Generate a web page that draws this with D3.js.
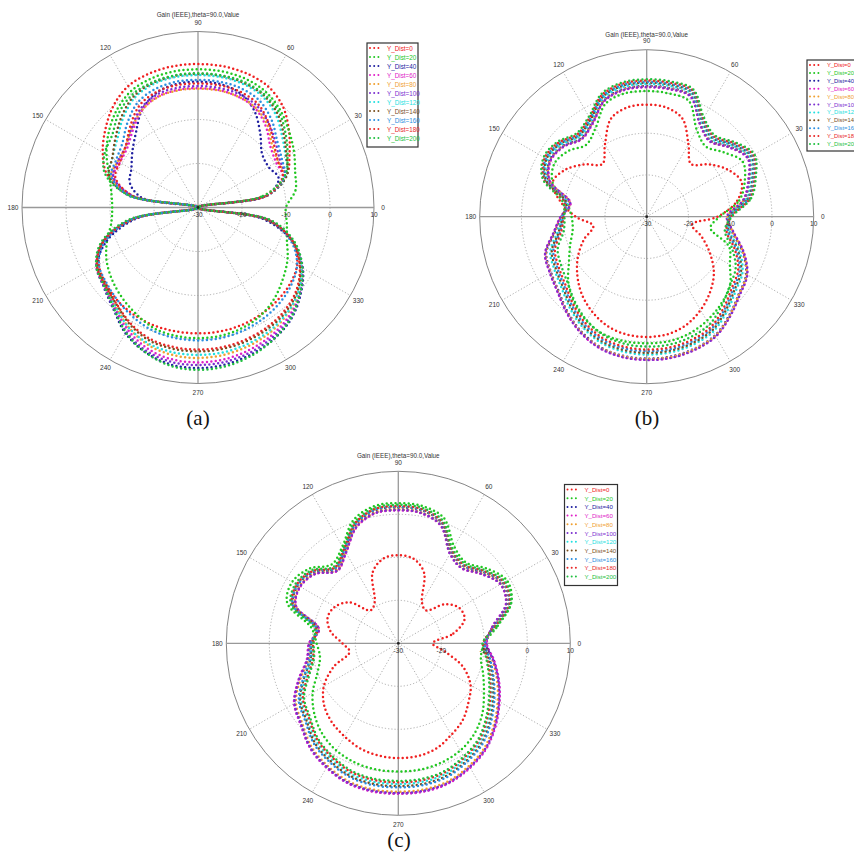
<!DOCTYPE html>
<html>
<head>
<meta charset="utf-8">
<script src="https://cdn.jsdelivr.net/npm/d3@7"></script>
<style>
  body { margin: 0; background: #fff; }
  svg text { font-family: "Liberation Sans", Arial, sans-serif; }
</style>
</head>
<body>
<svg id="chart" width="854" height="854"></svg>
<script>
// angles (deg) at which the gain was read, same for every curve
const angles = [0, 10, 20, 30, 40, 50, 60, 70, 80, 90, 100, 110, 120, 130, 140, 150, 160, 170,
    180, 190, 200, 210, 220, 230, 240, 250, 260, 270, 280, 290, 300, 310, 320, 330, 340, 350];

const seriesNames = ["Y_Dist=0", "Y_Dist=20", "Y_Dist=40", "Y_Dist=60", "Y_Dist=80", "Y_Dist=100",
    "Y_Dist=120", "Y_Dist=140", "Y_Dist=160", "Y_Dist=180", "Y_Dist=200"];
const seriesColors = ["#f02020", "#22c722", "#2020a0", "#e020c8", "#f0a030", "#7b2fd0",
    "#22e0e0", "#7a4f1e", "#2a8ee0", "#e82828", "#20c040"];

const angleTicks = [0, 30, 60, 90, 120, 150, 180, 210, 240, 270, 300, 330];
const radialTicks = [-30, -20, -10, 0, 10];
const titleText = "Gain (IEEE),theta=90.0,Value";

// gain in dB, panel (a), one row per Y_Dist
const gainA = [
    [-30, -14, -8.5, -6, -3, 0, 1.8, 2.4, 2.6, 2.6, 2.6, 2.4, 1.8, 0, -2.5, -5, -8, -14, -30, -15, -7, -4, -2.8, -2, -1.6, -1.4, -1.4, -1.4, -1.4, -1.5, -1.8, -2.2, -2.8, -4, -7, -14],
    [-10, -7.5, -6.5, -4.8, -3, -1, 0.5, 1.2, 1.4, 1.4, 1.4, 1.2, 0.5, -1.2, -3.5, -6, -8.5, -10, -10.5, -10, -8, -6, -4.5, -3.2, -2, -0.8, -0.4, -0.3, -0.4, -0.8, -1.6, -3, -4.8, -6.5, -8.5, -9.5],
    [-30, -14, -10.5, -11.5, -11, -8, -4.5, -2.3, -1.5, -1.4, -1.5, -2.3, -4.5, -8, -10.5, -12.5, -13.5, -17, -30, -16, -8, -3.5, -2, 0, 3, 5, 6.2, 6.5, 6.2, 5.5, 4.5, 3, 0.5, -2.5, -7, -15],
    [-30, -14, -9.5, -9.5, -8.5, -6, -4, -3.2, -2.9, -2.9, -2.9, -3.2, -4.5, -7, -9, -9.5, -9.5, -15, -30, -15, -7, -3.4, -2.2, -0.5, 2, 4, 5, 5.2, 5, 4.4, 3.5, 2.2, 0.2, -2.8, -7, -14],
    [-30, -15, -9, -9, -8, -5.5, -3.8, -3.2, -3, -3, -3, -3.3, -4.5, -6.5, -8.5, -9, -9, -15, -30, -15, -7, -3.5, -2.4, -0.8, 1.5, 3.2, 4, 4.2, 4, 3.5, 2.8, 1.6, 0, -2.9, -7, -14],
    [-30, -14, -9, -8.5, -7, -5, -3.3, -2.6, -2.4, -2.4, -2.4, -2.7, -4, -6.5, -8.5, -9, -9.5, -15, -30, -15, -7, -3.3, -2.1, -0.2, 2.6, 4.6, 5.6, 5.8, 5.6, 5, 4, 2.6, 0.3, -2.7, -7, -14],
    [-30, -14, -8.5, -7, -5, -2.5, -0.8, -0.1, 0.1, 0.1, 0.1, -0.2, -1.2, -3.5, -6, -7.5, -8.5, -14, -30, -15, -7, -3.5, -2.4, -0.8, 1.5, 2.9, 3.4, 3.5, 3.4, 3, 2.4, 1.4, -0.2, -3, -7, -14],
    [-30, -14, -8.5, -6.8, -4.5, -2, -0.4, 0.2, 0.4, 0.4, 0.4, 0.1, -0.8, -3, -5.5, -7.5, -8.5, -14, -30, -15, -7, -3.6, -2.6, -1.2, 0.8, 2.2, 2.6, 2.7, 2.6, 2.3, 1.8, 1, -0.5, -3.2, -7, -14],
    [-30, -14, -9, -8, -6.5, -4, -2, -1.2, -1, -1, -1, -1.4, -2.5, -5, -7.5, -8.5, -9, -14, -30, -15, -7.5, -4, -3, -2, -1, -0.2, 0.1, 0.2, 0.1, -0.2, -0.7, -1.4, -2.4, -4, -7.5, -14],
    [-30, -14, -9.5, -9, -7.5, -5, -2.8, -2, -1.8, -1.8, -1.8, -2.1, -3.3, -6, -8.5, -9.5, -10, -15, -30, -15, -7, -3.5, -2.5, -1.3, 0.5, 1.8, 2.2, 2.3, 2.2, 1.9, 1.4, 0.6, -0.8, -3.3, -7, -14],
    [-30, -15, -9, -6.5, -4, -1.5, -0.2, 0.4, 0.5, 0.5, 0.5, 0.3, -0.3, -2, -4.5, -5.5, -7.5, -14, -30, -14, -6.5, -3.3, -2.2, -0.2, 2.8, 5, 6.5, 6.9, 6.6, 5.8, 4.5, 2.8, 0.3, -2.6, -6.5, -13],
];

// gain in dB, panel (b)
const gainB = [
    [-13, -8, -5.8, -7.5, -10.5, -13.5, -10, -5, -3.4, -3.2, -3.4, -5, -10, -13.5, -10.5, -7.5, -6, -9, -13, -17, -14, -11, -8.3, -5.8, -3.8, -2.2, -1.4, -1.2, -1.4, -2.4, -4.2, -6.4, -9, -12.5, -16, -19],
    [-12.5, -7.5, -5, -3.5, -6, -8, -6, -0.5, 0, 0.1, 0, -1.2, -5.5, -7.5, -5.5, -4.5, -6, -10.5, -12, -12, -10.5, -8.5, -5.5, -3, -1.2, 0, 0.3, 0.3, 0.3, -0.2, -1.2, -2.5, -4, -7, -9, -14.5],
    [-10.5, -6.2, -3.8, -1.8, -3.9, -6.2, -4.2, 0.9, 1.3, 1.3, 1.1, -0.2, -3.9, -5.5, -3.7, -3.1, -5.1, -11.2, -9.6, -7.6, -4.4, -3.5, -2.4, -0.4, 1.6, 3.1, 3.8, 4.0, 4.0, 3.6, 2.8, 0.8, -1.2, -2.5, -5.6, -9.2],
    [-10.8, -6.5, -4.1, -2.1, -4.2, -6.5, -4.5, 0.6, 1.0, 1.0, 0.8, -0.5, -4.2, -5.8, -4.0, -3.4, -5.4, -11.5, -9.4, -7.3, -4.1, -3.2, -2.1, -0.1, 1.9, 3.4, 4.1, 4.3, 4.3, 3.9, 3.1, 1.1, -0.9, -2.2, -5.3, -8.9],
    [-10.6, -6.3, -3.9, -1.9, -4.0, -6.3, -4.3, 0.8, 1.2, 1.2, 1.0, -0.3, -4.0, -5.6, -3.8, -3.2, -5.2, -11.3, -9.5, -7.5, -4.3, -3.4, -2.3, -0.3, 1.7, 3.2, 3.9, 4.1, 4.1, 3.7, 2.9, 0.9, -1.1, -2.4, -5.5, -9.1],
    [-10.7, -6.4, -4.0, -2.0, -4.1, -6.4, -4.4, 0.7, 1.1, 1.1, 0.9, -0.4, -4.1, -5.7, -3.9, -3.3, -5.3, -11.4, -9.4, -7.3, -4.1, -3.2, -2.1, -0.1, 1.9, 3.4, 4.1, 4.3, 4.3, 3.9, 3.1, 1.1, -0.9, -2.2, -5.3, -8.9],
    [-10.3, -5.7, -3.3, -1.3, -3.4, -5.7, -3.7, 1.4, 1.8, 1.8, 1.6, 0.3, -3.4, -5.0, -3.2, -2.6, -4.6, -10.7, -9.8, -8.3, -5.4, -4.5, -3.4, -1.4, 0.6, 2.1, 2.8, 3.0, 3.0, 2.6, 1.8, -0.2, -2.2, -3.5, -6.4, -9.8],
    [-10.2, -5.4, -3.0, -1.0, -3.1, -5.4, -3.4, 1.7, 2.1, 2.1, 1.9, 0.6, -3.1, -4.7, -2.9, -2.3, -4.3, -10.4, -9.9, -8.6, -5.8, -4.9, -3.8, -1.8, 0.2, 1.7, 2.4, 2.6, 2.6, 2.2, 1.4, -0.6, -2.6, -3.9, -6.8, -10.1],
    [-10.0, -5.2, -2.8, -0.8, -2.9, -5.2, -3.2, 1.9, 2.3, 2.3, 2.1, 0.8, -2.9, -4.5, -2.7, -2.1, -4.1, -10.2, -10.0, -8.9, -6.2, -5.3, -4.2, -2.2, -0.2, 1.3, 2.0, 2.2, 2.2, 1.8, 1.0, -1.0, -3.0, -4.3, -7.2, -10.3],
    [-9.8, -4.9, -2.5, -0.5, -2.6, -4.9, -2.9, 2.2, 2.6, 2.6, 2.4, 1.1, -2.6, -4.2, -2.4, -1.8, -3.8, -9.9, -10.1, -9.2, -6.6, -5.7, -4.6, -2.6, -0.6, 0.9, 1.6, 1.8, 1.8, 1.4, 0.6, -1.4, -3.4, -4.7, -7.6, -10.6],
    [-9.6, -4.6, -2.2, -0.2, -2.3, -4.6, -2.6, 2.5, 2.9, 2.9, 2.7, 1.4, -2.3, -3.9, -2.1, -1.5, -3.5, -9.6, -10.3, -9.8, -7.3, -6.4, -5.3, -3.3, -1.3, 0.2, 0.9, 1.1, 1.1, 0.7, -0.1, -2.1, -4.1, -5.4, -8.3, -11.0],
];

// gain in dB, panel (c)
const gainC = [
    [-22, -17, -13.6, -13.6, -15.9, -20, -19, -12.5, -10, -9.5, -10, -12.5, -19, -20, -15.2, -13, -12.5, -14, -17, -18.5, -14, -10, -7.5, -6, -5, -4, -3.5, -3.3, -3.4, -4, -5.4, -6.7, -8.7, -10.6, -14, -19],
    [-10, -6.5, -2, -0.8, -3, -5.5, -4, 1, 2.4, 2.6, 2.4, 0.5, -4, -6, -3, -1.5, -2.5, -9.5, -11, -11.5, -10, -7, -4.5, -2.5, -1.2, -0.5, -0.2, -0.2, -0.2, -0.5, -1.2, -2.5, -4.5, -7, -9, -10.5],
    [-9.5, -7.7, -3.3, -2.5, -4.8, -7.1, -5.9, -0.9, 0.8, 1.0, 0.8, -1.3, -5.6, -7.9, -4.8, -3.6, -4.6, -11.2, -9.3, -8.5, -5.4, -2.1, -0.5, 1.8, 3.3, 4.5, 4.9, 4.9, 4.9, 4.5, 3.3, 1.8, -0.5, -2.9, -5.2, -7.5],
    [-9.4, -7.8, -3.4, -2.6, -4.9, -7.2, -6.0, -1.0, 0.7, 0.9, 0.7, -1.4, -5.7, -8.0, -4.9, -3.7, -4.7, -11.3, -9.2, -8.4, -5.3, -2.0, -0.4, 1.9, 3.4, 4.6, 5.0, 5.0, 5.0, 4.6, 3.4, 1.9, -0.4, -2.8, -5.1, -7.4],
    [-9.7, -7.6, -3.2, -2.4, -4.7, -7.0, -5.8, -0.8, 0.9, 1.1, 0.9, -1.2, -5.5, -7.8, -4.7, -3.5, -4.5, -11.1, -9.5, -8.8, -5.8, -2.5, -0.9, 1.4, 2.9, 4.1, 4.5, 4.5, 4.5, 4.1, 2.9, 1.4, -0.9, -3.3, -5.6, -7.8],
    [-9.6, -7.7, -3.3, -2.5, -4.8, -7.1, -5.9, -0.9, 0.8, 1.0, 0.8, -1.3, -5.6, -7.9, -4.8, -3.6, -4.6, -11.2, -9.4, -8.6, -5.5, -2.2, -0.6, 1.7, 3.2, 4.4, 4.8, 4.8, 4.8, 4.4, 3.2, 1.7, -0.6, -3.0, -5.3, -7.6],
    [-10.2, -7.1, -2.5, -1.7, -4.0, -6.3, -5.1, -0.1, 1.6, 1.8, 1.6, -0.5, -4.8, -7.1, -4.0, -2.8, -3.8, -10.6, -10.0, -9.6, -7.2, -4.0, -2.5, -0.3, 1.1, 2.3, 2.7, 2.7, 2.7, 2.3, 1.1, -0.3, -2.6, -4.9, -7.0, -8.8],
    [-10.0, -7.3, -2.7, -1.9, -4.2, -6.5, -5.3, -0.3, 1.4, 1.6, 1.4, -0.7, -5.0, -7.3, -4.2, -3.0, -4.0, -10.8, -9.8, -9.3, -6.7, -3.6, -2.1, 0.2, 1.6, 2.8, 3.2, 3.2, 3.2, 2.8, 1.6, 0.2, -2.1, -4.5, -6.6, -8.5],
    [-9.9, -7.2, -2.6, -1.8, -4.1, -6.4, -5.2, -0.2, 1.5, 1.7, 1.5, -0.6, -4.9, -7.2, -4.1, -2.9, -3.9, -10.7, -9.7, -9.1, -6.5, -3.3, -1.8, 0.5, 1.9, 3.1, 3.5, 3.5, 3.5, 3.1, 1.9, 0.5, -1.8, -4.2, -6.4, -8.3],
    [-10.3, -7.0, -2.4, -1.6, -3.9, -6.2, -5.0, 0.0, 1.7, 1.9, 1.7, -0.4, -4.7, -7.0, -3.9, -2.7, -3.7, -10.5, -10.2, -9.9, -7.6, -4.4, -2.9, -0.7, 0.7, 1.9, 2.3, 2.3, 2.3, 1.9, 0.7, -0.7, -3.0, -5.3, -7.3, -9.0],
    [-10.4, -6.7, -2.1, -1.3, -3.6, -5.9, -4.7, 0.3, 2.0, 2.2, 2.0, -0.1, -4.4, -6.7, -3.6, -2.4, -3.4, -10.2, -10.3, -10.1, -7.9, -4.7, -3.2, -1.0, 0.4, 1.6, 2.0, 2.0, 2.0, 1.6, 0.4, -1.0, -3.3, -5.6, -7.6, -9.2],
];

// layout of the three plots
const panels = [
    { data: gainA, cx: 198, cy: 207.5, R: 176, titleY: 17, caption: "(a)", capX: 198, capY: 425,
      legend: { x: 367, y: 43, w: 51, h: 104, row: 9, fs: 6.3 } },
    { data: gainB, cx: 646.7, cy: 216.7, R: 167, titleY: 36.5, caption: "(b)", capX: 647, capY: 425,
      legend: { x: 807, y: 60, w: 60, h: 91, row: 7.9, fs: 5.8 } },
    { data: gainC, cx: 398.3, cy: 643.3, R: 172, titleY: 458, caption: "(c)", capX: 399, capY: 847,
      legend: { x: 564.5, y: 484.5, w: 53, h: 101, row: 8.7, fs: 6.1 } },
];

const svg = d3.select("#chart");
svg.append("rect").attr("width", 854).attr("height", 854).attr("fill", "#fff");

const toRad = (deg) => (deg * Math.PI) / 180;

const drawPanel = (p) => {
    const r = d3.scaleLinear().domain([-30, 10]).range([0, p.R]).clamp(true);
    const g = svg.append("g").attr("transform", `translate(${p.cx},${p.cy})`);

    // grid rings
    g.selectAll(".ring")
        .data([-20, -10, 0])
        .join("circle")
        .attr("r", (d) => r(d))
        .attr("fill", "none")
        .attr("stroke", "#999")
        .attr("stroke-width", 0.8)
        .attr("stroke-dasharray", "1.2,2");
    g.append("circle")
        .attr("r", r(10))
        .attr("fill", "none")
        .attr("stroke", "#777")
        .attr("stroke-width", 0.9);

    // spokes
    g.selectAll(".spoke")
        .data(angleTicks.filter((a) => a % 90 !== 0))
        .join("line")
        .attr("x2", (a) => r(10) * Math.cos(toRad(a)))
        .attr("y2", (a) => -r(10) * Math.sin(toRad(a)))
        .attr("stroke", "#999")
        .attr("stroke-width", 0.8)
        .attr("stroke-dasharray", "1.2,2");
    g.append("line")
        .attr("x1", -p.R).attr("x2", p.R)
        .attr("stroke", "#999").attr("stroke-width", 1.3);
    g.append("line")
        .attr("y1", -p.R).attr("y2", p.R)
        .attr("stroke", "#999").attr("stroke-width", 1.3);

    // angle labels
    g.selectAll(".alab")
        .data(angleTicks)
        .join("text")
        .attr("x", (a) => (p.R + 9) * Math.cos(toRad(a)))
        .attr("y", (a) => -(p.R + 9) * Math.sin(toRad(a)))
        .attr("text-anchor", "middle")
        .attr("dominant-baseline", "central")
        .attr("font-size", 6.5)
        .attr("fill", "#333")
        .text((a) => a);

    // curves, drawn as dotted traces
    const line = d3
        .lineRadial()
        .angle((d, i) => Math.PI / 2 - toRad(angles[i]))
        .radius((d) => r(d))
        .curve(d3.curveCatmullRomClosed.alpha(0.5));

    g.selectAll(".trace")
        .data(p.data)
        .join("path")
        .attr("d", (d) => line(d))
        .attr("fill", "none")
        .attr("stroke", (d, i) => seriesColors[i])
        .attr("stroke-width", 2.5)
        .attr("stroke-linecap", "round")
        .attr("stroke-dasharray", "0,4.4");

    g.append("circle").attr("r", 1.4).attr("fill", "#222");

    // radial labels
    g.selectAll(".rlab")
        .data(radialTicks)
        .join("text")
        .attr("x", (d) => r(d))
        .attr("y", 7)
        .attr("text-anchor", "middle")
        .attr("dominant-baseline", "central")
        .attr("font-size", 6.5)
        .attr("fill", "#333")
        .text((d) => d);

    svg.append("text")
        .attr("x", p.cx)
        .attr("y", p.titleY)
        .attr("text-anchor", "middle")
        .attr("font-size", 6.3)
        .attr("fill", "#333")
        .text(titleText);

    // legend
    const L = p.legend;
    const lg = svg.append("g").attr("transform", `translate(${L.x},${L.y})`);
    lg.append("rect")
        .attr("width", L.w)
        .attr("height", L.h)
        .attr("fill", "#fff")
        .attr("stroke", "#333")
        .attr("stroke-width", 1.2);
    const rows = lg
        .selectAll(".row")
        .data(seriesNames)
        .join("g")
        .attr("transform", (d, i) => `translate(0,${5 + i * L.row})`);
    rows.append("line")
        .attr("x1", 3).attr("x2", 14)
        .attr("stroke", (d, i) => seriesColors[i])
        .attr("stroke-width", 2)
        .attr("stroke-linecap", "round")
        .attr("stroke-dasharray", "0,4.2");
    rows.append("text")
        .attr("x", 20)
        .attr("dominant-baseline", "central")
        .attr("font-size", L.fs)
        .attr("fill", (d, i) => seriesColors[i])
        .text((d) => d);

    svg.append("text")
        .attr("x", p.capX)
        .attr("y", p.capY)
        .attr("text-anchor", "middle")
        .style("font-family", "'Liberation Serif', 'Times New Roman', serif")
        .attr("font-size", 21)
        .attr("fill", "#111")
        .text(p.caption);
};

panels.forEach(drawPanel);
</script>
</body>
</html>
